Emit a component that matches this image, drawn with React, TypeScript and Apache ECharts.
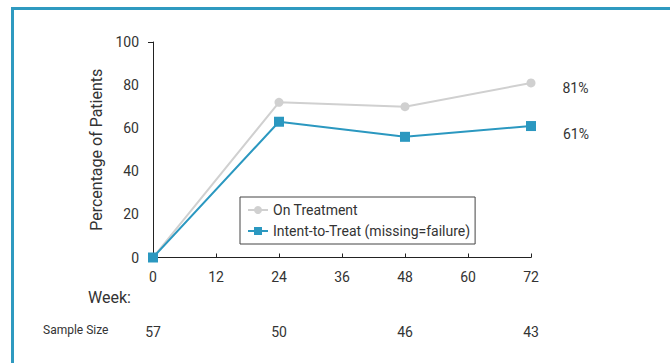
import React, { useEffect, useRef } from "react";
import * as echarts from "echarts";

const weeks = [0, 24, 48, 72];
const onTreatment = [0, 72, 70, 81];
const intentToTreat = [0, 63, 56, 61];
const sampleSizes = [57, 50, 46, 43];
const seriesNames = ["On Treatment", "Intent-to-Treat (missing=failure)"];

const FONT = "Roboto, 'Liberation Sans', sans-serif";
const GRAY = "#d0d0d0";
const BLUE = "#2b98c0";
const TEXT = "#333333";

function toPoints(values: number[]) {
  return values.map((v, i) => {
    const pt: any = { value: [weeks[i], v] };
    if (i === values.length - 1) {
      pt.label = {
        show: true,
        position: "right",
        distance: 27,
        offset: [0, values === onTreatment ? 5 : 8],
        formatter: () => `${v}%`,
        color: TEXT,
        fontSize: 14,
        fontFamily: FONT,
      };
    }
    return pt;
  });
}

export default function App() {
  const ref = useRef<HTMLDivElement>(null);

  useEffect(() => {
    if (!ref.current) return;
    const chart = echarts.init(ref.current, null, { renderer: "svg" });
    chart.setOption({
      animation: false,
      backgroundColor: "#ffffff",
      textStyle: { fontFamily: FONT },
      grid: { left: 153, right: 139, top: 42, bottom: 105.5, containLabel: false },
      xAxis: [
        {
          type: "value",
          min: 0,
          max: 72,
          interval: 12,
          axisLine: { show: true, lineStyle: { color: "#222", width: 1 } },
          axisTick: { show: true, inside: true, length: 4, lineStyle: { color: "#222" } },
          axisLabel: { color: TEXT, fontSize: 14, margin: 12, fontFamily: FONT },
          splitLine: { show: false },
        },
        {
          type: "value",
          position: "bottom",
          offset: 61,
          min: 0,
          max: 72,
          interval: 24,
          axisLine: { show: false },
          axisTick: { show: false },
          axisLabel: {
            color: TEXT,
            fontSize: 14,
            margin: 6,
            fontFamily: FONT,
            formatter: (v: number) => {
              const i = weeks.indexOf(v);
              return i >= 0 ? String(sampleSizes[i]) : "";
            },
          },
          splitLine: { show: false },
        },
      ],
      yAxis: {
        type: "value",
        min: 0,
        max: 100,
        interval: 20,
        name: "Percentage of Patients",
        nameLocation: "middle",
        nameGap: 47,
        nameTextStyle: { color: TEXT, fontSize: 16, fontFamily: FONT },
        axisLine: { show: true, lineStyle: { color: "#222", width: 1 } },
        axisTick: { show: false },
        axisLabel: { color: TEXT, fontSize: 14, margin: 14, fontFamily: FONT },
        splitLine: { show: false },
      },
      legend: {
        orient: "vertical",
        left: 240,
        top: 197,
        padding: [6, 5, 6, 7],
        itemGap: 7,
        itemWidth: 20,
        itemHeight: 10,
        borderColor: "#444",
        borderWidth: 1,
        borderRadius: 0,
        textStyle: { color: TEXT, fontSize: 14, fontFamily: FONT },
        data: seriesNames,
      },
      series: [
        {
          name: seriesNames[0],
          type: "line",
          xAxisIndex: 0,
          data: toPoints(onTreatment),
          symbol: "circle",
          symbolSize: 9,
          color: GRAY,
          lineStyle: { color: GRAY, width: 2 },
          itemStyle: { color: GRAY },
          z: 2,
        },
        {
          name: seriesNames[1],
          type: "line",
          xAxisIndex: 0,
          data: toPoints(intentToTreat),
          symbol: "rect",
          symbolSize: 10,
          color: BLUE,
          lineStyle: { color: BLUE, width: 2 },
          itemStyle: { color: BLUE },
          z: 3,
        },
      ],
      graphic: [
        {
          type: "line",
          shape: { x1: 12.5, y1: 363, x2: 12.5, y2: 8.5 },
          style: { stroke: "#2f9ac0", lineWidth: 3 },
        },
        {
          type: "line",
          shape: { x1: 11, y1: 8.5, x2: 670, y2: 8.5 },
          style: { stroke: "#2f9ac0", lineWidth: 3 },
        },
        {
          type: "text",
          left: 88,
          top: 289,
          style: { text: "Week:", fill: TEXT, fontSize: 16, fontFamily: FONT },
        },
        {
          type: "text",
          left: 43,
          top: 324,
          style: { text: "Sample Size", fill: TEXT, fontSize: 12, fontFamily: FONT },
        },
        {
          type: "line",
          shape: { x1: 148, y1: 42.5, x2: 153, y2: 42.5 },
          style: { stroke: "#222", lineWidth: 1 },
        },
      ],
    });
    return () => chart.dispose();
  }, []);

  return (
    <div
      ref={ref}
      style={{ position: "fixed", left: 0, top: 0, width: 670, height: 363, background: "#fff" }}
    />
  );
}
